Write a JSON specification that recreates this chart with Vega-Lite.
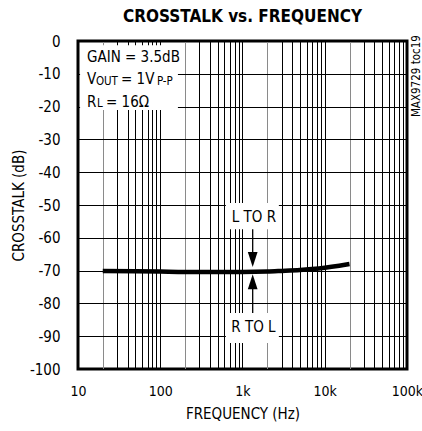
{
  "$schema": "https://vega.github.io/schema/vega-lite/v6.json",
  "width": 329,
  "height": 328,
  "autosize": {"type": "none"},
  "padding": {"left": 78, "top": 41, "right": 15, "bottom": 62},
  "title": {
    "text": "CROSSTALK vs. FREQUENCY",
    "font": "DejaVu Sans Condensed",
    "fontSize": 17,
    "fontWeight": "bold",
    "color": "black",
    "frame": "group",
    "anchor": "middle",
    "offset": 8
  },
  "config": {
    "font": "DejaVu Sans Condensed",
    "view": {"stroke": "black", "strokeWidth": 3},
    "axis": {
      "labelFont": "DejaVu Sans Condensed",
      "titleFont": "DejaVu Sans Condensed",
      "labelFontSize": 15,
      "labelColor": "black",
      "titleFontSize": 15,
      "titleFontWeight": "normal",
      "titleColor": "black",
      "tickSize": 0,
      "domain": false,
      "grid": true,
      "gridColor": "black",
      "gridOpacity": 1,
      "gridWidth": 1,
      "labelOverlap": false,
      "labelFlush": false,
      "labelBound": false
    }
  },
  "datasets": {
    "curve": [
      {"freq": 20, "xtalk": -70.1},
      {"freq": 50, "xtalk": -70.2},
      {"freq": 100, "xtalk": -70.3},
      {"freq": 200, "xtalk": -70.4},
      {"freq": 500, "xtalk": -70.4},
      {"freq": 1000, "xtalk": -70.4},
      {"freq": 2000, "xtalk": -70.3},
      {"freq": 3000, "xtalk": -70.1},
      {"freq": 5000, "xtalk": -69.8},
      {"freq": 7000, "xtalk": -69.5},
      {"freq": 10000, "xtalk": -69.1},
      {"freq": 15000, "xtalk": -68.5},
      {"freq": 20000, "xtalk": -68.0}
    ],
    "boxes": [
      {"f1": 10.6, "f2": 164, "v1": -1.3, "v2": -21},
      {"f1": 628, "f2": 2768, "v1": -49.4, "v2": -57.4},
      {"f1": 628, "f2": 2768, "v1": -82.9, "v2": -92.1}
    ],
    "arrows": [
      {"f": 1330, "v1": -57.4, "v2": -65},
      {"f": 1330, "v1": -75.5, "v2": -82.9}
    ],
    "headsDown": [{"f": 1330, "v": -66.6}],
    "headsUp": [{"f": 1330, "v": -73.4}],
    "labels": [
      {"t": "GAIN = 3.5dB", "f": 12.86, "v": -4.8},
      {"t": "V", "f": 12.86, "v": -11.7},
      {"t": "= 1V", "f": 33.3, "v": -11.7},
      {"t": "R", "f": 12.86, "v": -18.5},
      {"t": "= 16Ω", "f": 21.9, "v": -18.5},
      {"t": "L TO R", "f": 740, "v": -53.7},
      {"t": "R TO L", "f": 730, "v": -87.3}
    ],
    "subs": [
      {"t": "OUT", "f": 16.5, "v": -11.7},
      {"t": "P-P", "f": 91, "v": -11.7},
      {"t": "L", "f": 17.0, "v": -18.5}
    ],
    "side": [{"t": "MAX9729 toc19", "f": 100000, "v": -10.7}]
  },
  "encoding": {
    "x": {
      "type": "quantitative",
      "scale": {"type": "log", "domain": [10, 100000], "nice": false},
      "axis": {
        "title": "FREQUENCY (Hz)",
        "values": [10,20,30,40,50,60,70,80,90,100,200,300,400,500,600,700,800,900,1000,2000,3000,4000,5000,6000,7000,8000,9000,10000,20000,30000,40000,50000,60000,70000,80000,90000,100000],
        "labelExpr": "indexof([10,100,1000,10000,100000], datum.value) >= 0 ? (datum.value >= 1000 ? (datum.value/1000) + 'k' : '' + datum.value) : ''",
        "labelFontSize": 14,
        "labelPadding": 15,
        "titlePadding": 8,
        "gridColor": {"condition": {"test": "indexof([20,200,2000,20000], datum.value) >= 0", "value": "#8a8a8a"}, "value": "black"}
      }
    },
    "y": {
      "type": "quantitative",
      "scale": {"domain": [-100, 0], "nice": false, "zero": false},
      "axis": {
        "title": "CROSSTALK (dB)",
        "values": [-100,-90,-80,-70,-60,-50,-40,-30,-20,-10,0],
        "labelExpr": "'' + datum.value",
        "labelPadding": 18,
        "titlePadding": 3
      }
    }
  },
  "layer": [
    {
      "data": {"name": "boxes"},
      "mark": {"type": "rect", "fill": "white", "stroke": null},
      "encoding": {
        "x": {"field": "f1", "type": "quantitative"},
        "x2": {"field": "f2"},
        "y": {"field": "v1", "type": "quantitative"},
        "y2": {"field": "v2"}
      }
    },
    {
      "data": {"name": "curve"},
      "mark": {"type": "line", "color": "black", "strokeWidth": 4.5, "interpolate": "monotone"},
      "encoding": {
        "x": {"field": "freq", "type": "quantitative"},
        "y": {"field": "xtalk", "type": "quantitative"}
      }
    },
    {
      "data": {"name": "arrows"},
      "mark": {"type": "rule", "color": "black", "strokeWidth": 1.3},
      "encoding": {
        "x": {"field": "f", "type": "quantitative"},
        "y": {"field": "v1", "type": "quantitative"},
        "y2": {"field": "v2"}
      }
    },
    {
      "data": {"name": "headsDown"},
      "mark": {"type": "point", "shape": "M-0.65,-1L0.65,-1L0,1Z", "filled": true, "color": "black", "opacity": 1, "size": 225, "strokeWidth": 0},
      "encoding": {
        "x": {"field": "f", "type": "quantitative"},
        "y": {"field": "v", "type": "quantitative"}
      }
    },
    {
      "data": {"name": "headsUp"},
      "mark": {"type": "point", "shape": "M-0.65,1L0.65,1L0,-1Z", "filled": true, "color": "black", "opacity": 1, "size": 225, "strokeWidth": 0},
      "encoding": {
        "x": {"field": "f", "type": "quantitative"},
        "y": {"field": "v", "type": "quantitative"}
      }
    },
    {
      "data": {"name": "labels"},
      "mark": {"type": "text", "align": "left", "baseline": "middle", "fontSize": 15, "color": "black"},
      "encoding": {
        "x": {"field": "f", "type": "quantitative"},
        "y": {"field": "v", "type": "quantitative"},
        "text": {"field": "t"}
      }
    },
    {
      "data": {"name": "subs"},
      "mark": {"type": "text", "align": "left", "baseline": "middle", "fontSize": 11.5, "dy": 2.5, "color": "black"},
      "encoding": {
        "x": {"field": "f", "type": "quantitative"},
        "y": {"field": "v", "type": "quantitative"},
        "text": {"field": "t"}
      }
    },
    {
      "data": {"name": "side"},
      "mark": {"type": "text", "align": "center", "baseline": "middle", "angle": 270, "fontSize": 11.5, "dy": 10, "color": "black"},
      "encoding": {
        "x": {"field": "f", "type": "quantitative"},
        "y": {"field": "v", "type": "quantitative"},
        "text": {"field": "t"}
      }
    }
  ]
}
